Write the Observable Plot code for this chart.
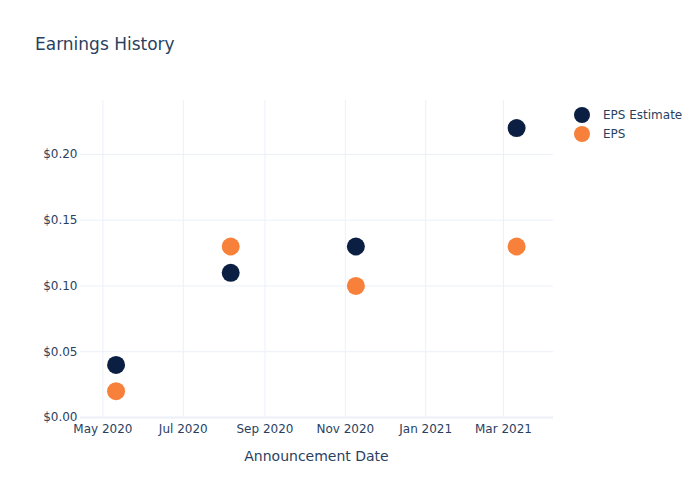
<!DOCTYPE html>
<html>
<head>
<meta charset="utf-8">
<script src="https://cdn.jsdelivr.net/npm/d3@7"></script>
<script src="https://cdn.jsdelivr.net/npm/@observablehq/plot@0.6"></script>
<style>
  html, body { margin: 0; padding: 0; background: #fff; }
  #wrap { position: relative; width: 700px; height: 500px; font-family: "DejaVu Sans", Verdana, sans-serif; color: #2a3f5f; }
  #title { position: absolute; left: 35px; top: 34px; font-size: 17px; color: #2a3f5f; }
  #legend { position: absolute; left: 574px; top: 105px; font-size: 12px; color: #2a3f5f; }
  .li { display: flex; align-items: center; height: 19px; }
  .dot { width: 16px; height: 16px; border-radius: 50%; margin-right: 13px; }
</style>
</head>
<body>
<div id="wrap">
  <div id="chart"></div>
  <div id="title">Earnings History</div>
  <div id="legend"></div>
</div>
<script>
const dates = ["2020-05-11", "2020-08-06", "2020-11-09", "2021-03-11"];
const epsEstimate = [0.04, 0.11, 0.13, 0.22];
const eps = [0.02, 0.13, 0.10, 0.13];
const seriesNames = ["EPS Estimate", "EPS"];
const seriesColors = ["#0b1f42", "#f7813a"];
const yTicks = [0, 0.05, 0.10, 0.15, 0.20];
const xTicks = ["2020-05-01", "2020-07-01", "2020-09-01", "2020-11-01", "2021-01-01", "2021-03-01"];
const xDomain = ["2020-04-14", "2021-04-08"];
const yDomain = [0, 0.241];

const parse = d3.utcParse("%Y-%m-%d");
const rows = [];
dates.forEach((d, i) => {
  rows.push({date: parse(d), value: epsEstimate[i], series: seriesNames[0]});
});
dates.forEach((d, i) => {
  rows.push({date: parse(d), value: eps[i], series: seriesNames[1]});
});
const xt = xTicks.map(parse);

const grid = "#EBF0F8";
const chart = Plot.plot({
  width: 700,
  height: 500,
  marginLeft: 80,
  marginRight: 147,
  marginTop: 100,
  marginBottom: 83,
  style: {fontFamily: '"DejaVu Sans", Verdana, sans-serif', fontSize: "12px", color: "#2a3f5f", background: "#fff"},
  x: {type: "utc", domain: xDomain.map(parse), ticks: xt, tickFormat: d3.utcFormat("%b %Y"), tickSize: 0, tickPadding: 7, label: null},
  y: {domain: yDomain, ticks: yTicks, tickFormat: d => "$" + d.toFixed(2), tickSize: 0, tickPadding: 3, label: null},
  color: {domain: seriesNames, range: seriesColors},
  marks: [
    Plot.ruleX(xt, {stroke: grid, strokeWidth: 1}),
    Plot.ruleY(yTicks.filter(v => v > 0), {stroke: grid, strokeWidth: 1}),
    Plot.ruleY([0], {stroke: grid, strokeWidth: 2}),
    Plot.axisX({ticks: xt, tickFormat: d3.utcFormat("%b %Y"), tickSize: 0, tickPadding: 7, label: null, fontSize: 12}),
    Plot.axisY({ticks: yTicks, tickFormat: d => "$" + d.toFixed(2), tickSize: 0, tickPadding: 3, label: null, fontSize: 12}),
    Plot.dot(rows, {x: "date", y: "value", fill: "series", r: 9, stroke: "none"})
  ]
});
document.getElementById("chart").appendChild(chart);

const ns = "http://www.w3.org/2000/svg";
const lab = document.createElementNS(ns, "text");
lab.setAttribute("x", (80 + 553) / 2);
lab.setAttribute("y", 461);
lab.setAttribute("text-anchor", "middle");
lab.setAttribute("font-size", "14");
lab.setAttribute("fill", "#2a3f5f");
lab.textContent = "Announcement Date";
chart.appendChild(lab);

const legend = document.getElementById("legend");
seriesNames.forEach((n, i) => {
  const li = document.createElement("div");
  li.className = "li";
  const dot = document.createElement("div");
  dot.className = "dot";
  dot.style.background = seriesColors[i];
  const t = document.createElement("span");
  t.textContent = n;
  li.appendChild(dot); li.appendChild(t);
  legend.appendChild(li);
});
</script>
</body>
</html>
